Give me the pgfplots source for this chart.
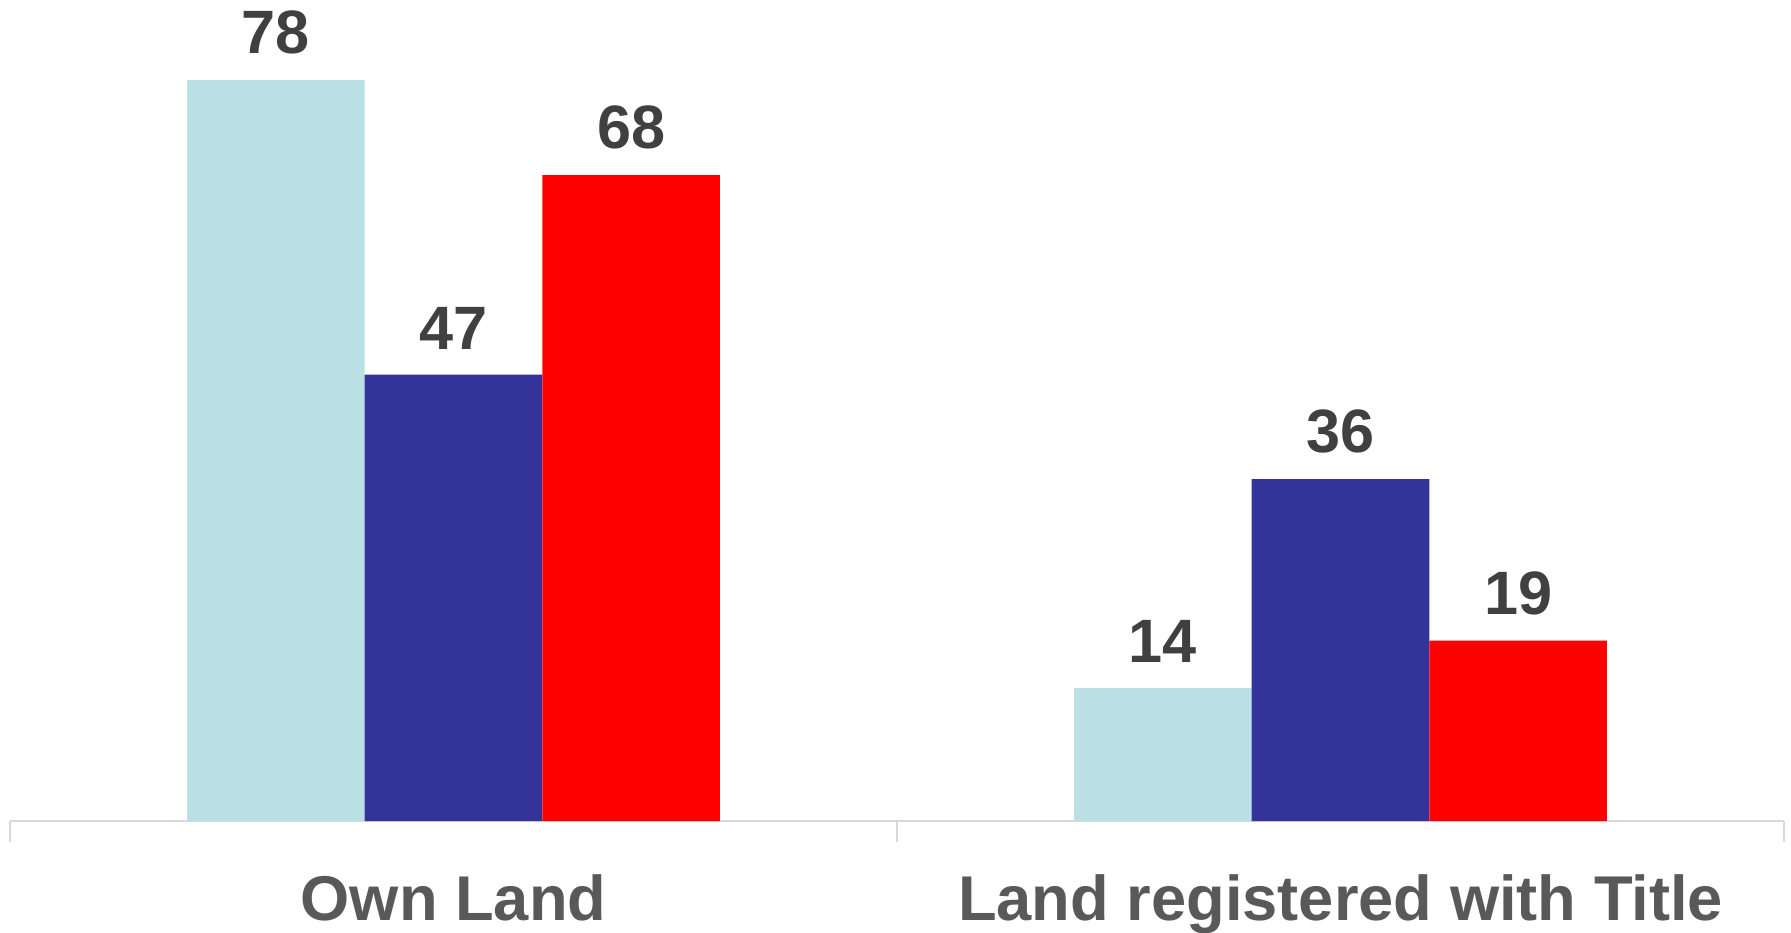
\documentclass[border=0pt]{standalone}
\usepackage{pgfplots}
\pgfplotsset{compat=1.18}
\usepackage{fontspec}
\setmainfont{Liberation Sans}
\definecolor{cLight}{HTML}{BBE0E3}
\definecolor{cBlue}{HTML}{333399}
\definecolor{cRed}{HTML}{FF0000}
\definecolor{axisgray}{HTML}{D9D9D9}
\definecolor{labgray}{HTML}{595959}
\definecolor{numgray}{HTML}{404040}
\begin{document}
\begin{tikzpicture}
\begin{axis}[
    scale only axis,
    width=709.6pt, height=326.8pt,
    ybar=0pt, bar width=71.05pt,
    xmin=-0.5, xmax=1.5, ymin=0, ymax=86,
    axis x line*=bottom, axis y line=none,
    x axis line style={axisgray, line width=0.75pt, -},
    xtick={0,1},
    xticklabels={Own Land, Land registered with Title},
    major tick length=0pt,
    minor xtick={-0.5,0.5,1.5},
    minor tick length=8.4pt,
    tick align=outside,
    minor tick style={axisgray, line width=0.75pt},
    xticklabel style={font=\fontsize{25.3}{30}\selectfont\bfseries, text=labgray, anchor=base, yshift=-39.6pt},
    /pgf/number format/assume math mode=true,
    nodes near coords={\pgfmathprintnumber{\pgfplotspointmeta}},
    every node near coord/.append style={font=\fontsize{24.5}{29}\selectfont\bfseries, text=numgray, anchor=south, inner sep=0pt, yshift=10pt},
    clip=false,
]
\addplot[fill=cLight, draw=none] coordinates {(0,78) (1,14)};
\addplot[fill=cBlue, draw=none] coordinates {(0,47) (1,36)};
\addplot[fill=cRed, draw=none] coordinates {(0,68) (1,19)};
\end{axis}
\pgfresetboundingbox
\path[use as bounding box] (-4pt,-44.4pt) rectangle (712.4pt,328.4pt);
\end{tikzpicture}
\end{document}
